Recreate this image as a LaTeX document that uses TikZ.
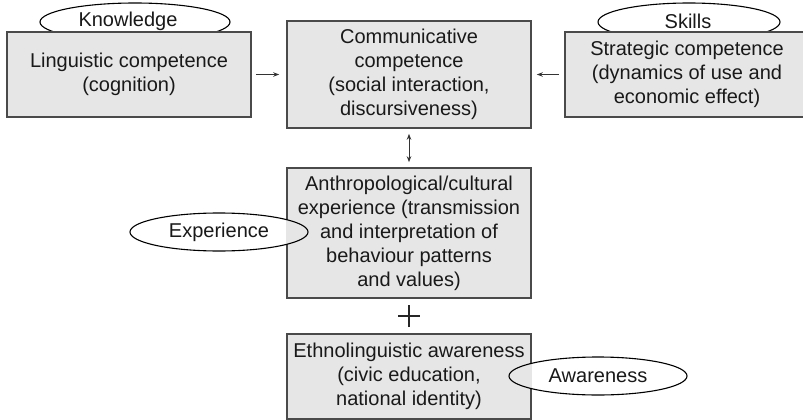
\documentclass[tikz,border=0pt]{standalone}
\usepackage{fontspec}
\setmainfont{Liberation Sans}
\usetikzlibrary{shapes.geometric,arrows.meta}
\definecolor{boxgray}{HTML}{E6E6E6}
\definecolor{edgegray}{HTML}{4A4A4A}
\begin{document}
\begin{tikzpicture}[x=1pt,y=-1pt,
  every node/.style={font=\fontsize{20}{24}\selectfont, text=black!90},
  box/.style={draw=edgegray, line width=1.6pt, fill=boxgray, align=center,
              inner sep=0pt, minimum width=244pt},
  tag/.style={ellipse, draw=black, line width=1.1pt, fill=white,
              inner sep=0pt, minimum height=38pt},
  link/.style={line width=1pt, draw=black!80,
               -{Stealth[length=6pt,width=4.5pt]}},
]
\useasboundingbox (0,0) rectangle (803,420);

% labels that sit behind the upper boxes
\node[tag, minimum width=190pt] (knowledge) at (135,22) {};
\node[tag, minimum width=182pt] (skills) at (689,22) {};

% the four competence boxes
\node[box, minimum height=85pt] (ling) at (129,74.5)
  {Linguistic competence\\(cognition)};
\node[box, minimum height=107pt] (comm) at (409,74.5)
  {Communicative\\competence\\(social interaction,\\discursiveness)};
\node[box, minimum height=85pt] (strat) at (687,74.5)
  {Strategic competence\\(dynamics of use and\\economic effect)};
\node[box, minimum height=130pt] (anthro) at (409,233)
  {Anthropological/cultural\\experience (transmission\\and interpretation of\\behaviour patterns\\and values)};
\node[box, minimum height=85pt] (ethno) at (409,376.5)
  {Ethnolinguistic awareness\\(civic education,\\national identity)};

% label texts for the upper ellipses
\node at (128,21) {Knowledge};
\node at (688,21) {Skills};

% labels that overlap the lower boxes: white outside, grey inside
\node[tag, draw=none, minimum width=178pt] (experience) at (219,232) {};
\begin{scope}
  \clip (experience.center) ellipse [x radius=89pt, y radius=19pt];
  \fill[boxgray] (anthro.north west) rectangle (anthro.south east);
\end{scope}
\node[tag, fill=none, minimum width=178pt] at (experience.center) {Experience};

\node[tag, draw=none, minimum width=178pt] (awareness) at (598,376) {};
\begin{scope}
  \clip (awareness.center) ellipse [x radius=89pt, y radius=19pt];
  \fill[boxgray] (ethno.north west) rectangle (ethno.south east);
\end{scope}
\node[tag, fill=none, minimum width=178pt] at (awareness.center) {Awareness};

% connectors
\draw[link, shorten <=4pt, shorten >=7pt] (ling.east) -- (comm.west);
\draw[link, shorten <=5pt, shorten >=5pt] (strat.west) -- (comm.east);
\draw[link, {Stealth[length=6pt,width=4.5pt]}-{Stealth[length=6pt,width=4.5pt]},
      shorten <=5pt, shorten >=5pt] (comm.south) -- (anthro.north);

% plus sign between the two lower boxes
\coordinate (plus) at (409,316);
\draw[line width=1.1pt, black!85] ([xshift=-11pt]plus) -- ([xshift=11pt]plus)
  ([yshift=-11pt]plus) -- ([yshift=11pt]plus);
\end{tikzpicture}
\end{document}
